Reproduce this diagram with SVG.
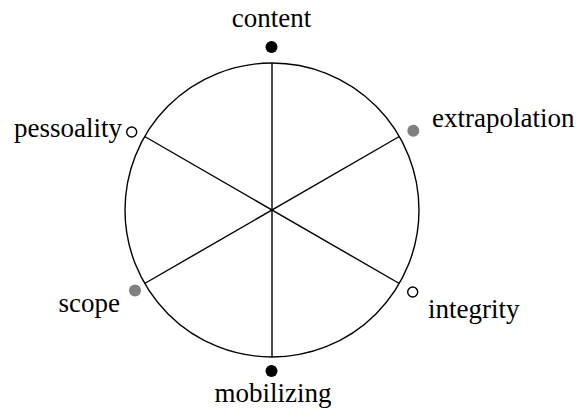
<svg xmlns="http://www.w3.org/2000/svg" width="576" height="414" viewBox="0 0 576 414">
<style>
.lbl{font-family:"Liberation Serif","Times New Roman",serif;font-size:27px;fill:#000}
.ln{stroke:#000;stroke-width:1.4;fill:none}
.blk{fill:#000}
.gry{fill:#808080}
.opn{fill:#fff;stroke:#000;stroke-width:1.4}
</style>
<rect width="576" height="414" fill="#fff"/>
<g id="connectors">
<circle class="ln" cx="272" cy="210" r="147"/>
<line class="ln" x1="272" y1="63" x2="272" y2="357"/>
<line class="ln" x1="144.7" y1="136.5" x2="399.3" y2="283.5"/>
<line class="ln" x1="144.7" y1="283.5" x2="399.3" y2="136.5"/>
</g>
<g id="content"><circle class="blk" cx="271.5" cy="47" r="6"/><text class="lbl" x="271.5" y="27" text-anchor="middle">content</text></g>
<g id="extrapolation"><circle class="gry" cx="413.3" cy="130.7" r="6"/><text class="lbl" x="432" y="127">extrapolation</text></g>
<g id="pessoality"><circle class="opn" cx="131.7" cy="132" r="5"/><text class="lbl" x="122" y="137" text-anchor="end">pessoality</text></g>
<g id="scope"><circle class="gry" cx="135" cy="290.5" r="6"/><text class="lbl" x="120" y="312" text-anchor="end">scope</text></g>
<g id="integrity"><circle class="opn" cx="412.7" cy="292" r="5"/><text class="lbl" x="428" y="318">integrity</text></g>
<g id="mobilizing"><circle class="blk" cx="271.5" cy="371" r="6"/><text class="lbl" x="273" y="402" text-anchor="middle">mobilizing</text></g>
</svg>
